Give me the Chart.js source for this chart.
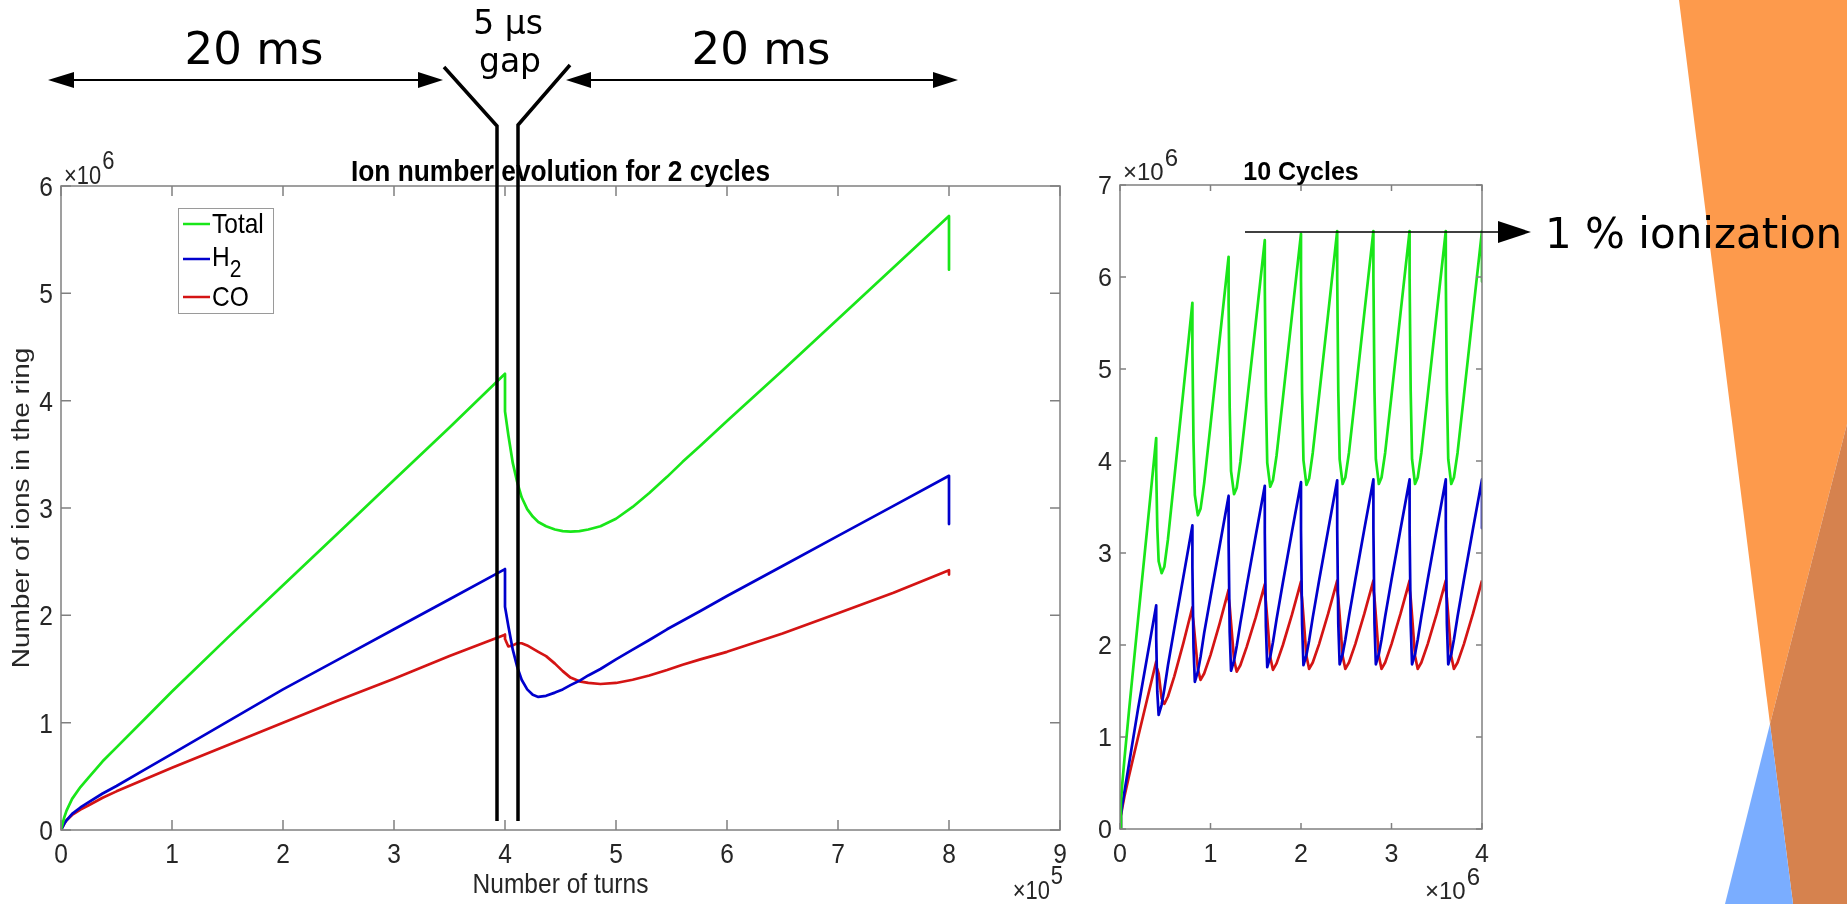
<!DOCTYPE html>
<html><head><meta charset="utf-8">
<script src="https://cdn.jsdelivr.net/npm/chart.js@4.4.1/dist/chart.umd.min.js"></script>
<style>
html,body{margin:0;padding:0;background:#fff;}
#stage{position:relative;width:1847px;height:904px;overflow:hidden;background:#fff;}
#stage svg,#stage canvas{position:absolute;left:0;top:0;}
</style></head><body>
<div id="stage">
<svg id="bg" width="1847" height="904">
  <polygon points="1679,0 1847,0 1847,424 1770,724" fill="#FD9A4C"/>
  <polygon points="1847,424 1770,724 1793,904 1847,904" fill="#D6824E"/>
  <polygon points="1770,724 1725,904 1793,904" fill="#7AADFF"/>
</svg>
<canvas id="c1" width="1847" height="904"></canvas>
<canvas id="c2" width="1847" height="904"></canvas>
<svg id="fg" width="1847" height="904">
  <g font-family="'DejaVu Sans', sans-serif" fill="#000">
    <text x="254" y="64" font-size="45" text-anchor="middle">20 ms</text>
    <text x="761" y="64" font-size="45" text-anchor="middle">20 ms</text>
    <text x="508" y="34" font-size="33" text-anchor="middle">5 µs</text>
    <text x="510" y="72" font-size="33" text-anchor="middle">gap</text>
  </g>
  <g stroke="#000" stroke-width="2">
    <line x1="70" y1="80" x2="422" y2="80"/>
    <line x1="588" y1="80" x2="938" y2="80"/>
  </g>
  <g fill="#000">
    <polygon points="48,80 74,72 74,88"/>
    <polygon points="443,80 418,72 418,88"/>
    <polygon points="566,80 591,72 591,88"/>
    <polygon points="958,80 933,72 933,88"/>
  </g>
  <polyline points="444,67 497,126 497,821" fill="none" stroke="#000" stroke-width="3.5"/>
  <polyline points="570,65 518,125 518,821" fill="none" stroke="#000" stroke-width="3.5"/>
  <line x1="1245" y1="232" x2="1505" y2="232" stroke="#000" stroke-width="1.5"/>
  <polygon points="1498,221 1531,232 1498,243" fill="#000"/>
  <text x="1545" y="248" font-family="'DejaVu Sans', sans-serif" font-size="42" fill="#000">1 % ionization</text>
</svg>
</div>
<script>
// ---------- data: 2 cycles (x in units of 1e5 turns, y in units of 1e6 ions) ----------
const mainTurns = [0,0.03,0.05,0.1,0.175,0.25,0.375,0.5,0.75,1,1.5,2,2.5,3,3.5,4,
  4,4.03,4.07,4.11,4.15,4.2,4.25,4.3,4.37,4.45,4.52,4.59,4.67,4.75,4.86,5,5.15,5.3,5.46,5.6,5.76,6,6.5,7,7.5,8,8];
const mainTotal = [0,0.12,0.18,0.29,0.40,0.49,0.64,0.77,1.03,1.29,1.79,2.28,2.77,3.26,3.75,4.25,
  3.90,3.68,3.42,3.24,3.10,2.99,2.92,2.87,2.83,2.80,2.785,2.78,2.785,2.80,2.83,2.90,3.01,3.14,3.29,3.43,3.58,3.81,4.28,4.76,5.24,5.72,5.22];
const mainH2    = [0,0.06,0.09,0.15,0.21,0.26,0.34,0.41,0.56,0.71,1.01,1.31,1.59,1.87,2.15,2.43,
  2.08,1.90,1.68,1.52,1.40,1.31,1.26,1.24,1.25,1.28,1.31,1.35,1.39,1.44,1.50,1.59,1.68,1.77,1.87,1.95,2.04,2.18,2.46,2.74,3.02,3.30,2.85];
const mainCO    = [0,0.06,0.09,0.14,0.19,0.23,0.30,0.36,0.47,0.58,0.79,1.00,1.21,1.41,1.62,1.82,
  1.78,1.71,1.72,1.74,1.74,1.72,1.69,1.66,1.62,1.55,1.48,1.42,1.385,1.37,1.36,1.37,1.40,1.44,1.49,1.54,1.59,1.66,1.83,2.02,2.21,2.42,2.38];

// ---------- data: 10 cycles (x in units of 1e6 turns, y in units of 1e6 ions) ----------
const tenTurns = [0,0.01,0.025,0.05,0.1,0.2,0.3,
0.4,0.4,0.412,0.427,0.46,0.49,0.53,0.6,0.7,
0.8,0.8,0.812,0.827,0.86,0.89,0.93,1.0,1.1,
1.2,1.2,1.212,1.227,1.26,1.29,1.33,1.4,1.5,
1.6,1.6,1.612,1.627,1.66,1.69,1.73,1.8,1.9,
2.0,2.0,2.012,2.027,2.06,2.09,2.13,2.2,2.3,
2.4,2.4,2.412,2.427,2.46,2.49,2.53,2.6,2.7,
2.8,2.8,2.812,2.827,2.86,2.89,2.93,3.0,3.1,
3.2,3.2,3.212,3.227,3.26,3.29,3.33,3.4,3.5,
3.6,3.6,3.612,3.627,3.66,3.69,3.73,3.8,3.9,
4.0,4.0];
const tenTotal = [0,0.29,0.49,0.77,1.29,2.28,3.26,
4.25,3.90,3.28,2.91,2.78,2.85,3.15,3.81,4.76,
5.72,5.22,4.22,3.63,3.41,3.48,3.76,4.39,5.31,
6.22,5.72,4.58,3.89,3.64,3.71,3.99,4.61,5.50,
6.40,5.90,4.70,3.98,3.72,3.79,4.06,4.68,5.58,
6.47,5.97,4.74,4.01,3.74,3.81,4.09,4.71,5.60,
6.50,6.00,4.76,4.02,3.75,3.82,4.09,4.71,5.61,
6.50,6.00,4.76,4.02,3.75,3.82,4.09,4.71,5.61,
6.50,6.00,4.76,4.02,3.75,3.82,4.09,4.71,5.61,
6.50,6.00,4.76,4.02,3.75,3.82,4.09,4.71,5.61,
6.50,5.95];
const tenH2 = [0,0.15,0.26,0.41,0.71,1.31,1.87,
2.43,2.08,1.49,1.24,1.35,1.52,1.78,2.18,2.74,
3.30,2.85,1.98,1.60,1.71,1.87,2.13,2.52,3.07,
3.62,3.12,2.14,1.72,1.83,1.99,2.24,2.64,3.19,
3.73,3.22,2.20,1.76,1.87,2.03,2.28,2.68,3.23,
3.77,3.25,2.22,1.78,1.89,2.05,2.30,2.70,3.25,
3.79,3.27,2.23,1.79,1.90,2.06,2.31,2.71,3.26,
3.80,3.27,2.23,1.79,1.90,2.06,2.31,2.71,3.26,
3.80,3.27,2.23,1.79,1.90,2.06,2.31,2.71,3.26,
3.80,3.27,2.23,1.79,1.90,2.06,2.31,2.71,3.26,
3.80,3.27];
const tenCO = [0,0.14,0.23,0.36,0.58,1.00,1.41,
1.82,1.76,1.74,1.69,1.42,1.36,1.44,1.66,2.02,
2.41,2.33,2.25,2.09,1.74,1.62,1.69,1.89,2.23,
2.60,2.51,2.42,2.24,1.84,1.71,1.78,1.98,2.30,
2.66,2.57,2.47,2.29,1.87,1.73,1.80,2.00,2.33,
2.69,2.60,2.50,2.31,1.88,1.74,1.81,2.01,2.34,
2.70,2.60,2.51,2.32,1.88,1.74,1.81,2.01,2.34,
2.70,2.60,2.51,2.32,1.88,1.74,1.81,2.01,2.34,
2.70,2.60,2.51,2.32,1.88,1.74,1.81,2.01,2.34,
2.70,2.60,2.51,2.32,1.88,1.74,1.81,2.01,2.34,
2.70,2.70];

const seriesLabels = ['Total','H₂','CO'];
const seriesColors = ['#19E619','#0000CD','#D41414'];
const mainTitle = 'Ion number evolution for 2 cycles';
const tenTitle = '10 Cycles';
const xAxisTitle = 'Number of turns';
const yAxisTitle = 'Number of ions in the ring';

const AXIS_COLOR = '#808080';
const TEXT_COLOR = '#262626';
const FONT = '"Liberation Sans", Arial, Helvetica, sans-serif';

function txt(ctx, s, x, y, font, align, baseline, sx){
  ctx.save();
  ctx.font = font; ctx.textAlign = align; ctx.textBaseline = baseline;
  ctx.translate(x, y); ctx.scale(sx, 1);
  ctx.fillText(s, 0, 0);
  ctx.restore();
}
function powText(ctx, base, exp, x, y, right, fs, raise, sx){
  ctx.save();
  ctx.font = fs + 'px ' + FONT;
  const wb = ctx.measureText(base).width * sx, we = ctx.measureText(exp).width * sx;
  const x0 = right ? x - wb - we - 1 : x;
  txt(ctx, base, x0, y, ctx.font, 'left', 'alphabetic', sx);
  txt(ctx, exp, x0 + wb + 1, y - raise, ctx.font, 'left', 'alphabetic', sx);
  ctx.restore();
}

const decor = {
  id: 'decor',
  afterDraw(chart, args, o){
    const ctx = chart.ctx, a = chart.chartArea;
    const xs = chart.scales.x, ys = chart.scales.y;
    const sx = o.sx, fs = o.fs, tf = fs + 'px ' + FONT;
    ctx.save();
    // box + inward ticks
    ctx.strokeStyle = AXIS_COLOR; ctx.lineWidth = 1.5;
    ctx.strokeRect(a.left, a.top, a.right - a.left, a.bottom - a.top);
    ctx.beginPath();
    xs.ticks.forEach(t => { const p = xs.getPixelForValue(t.value);
      ctx.moveTo(p, a.bottom); ctx.lineTo(p, a.bottom - o.tick);
      ctx.moveTo(p, a.top); ctx.lineTo(p, a.top + o.tick); });
    ys.ticks.forEach(t => { const p = ys.getPixelForValue(t.value);
      ctx.moveTo(a.left, p); ctx.lineTo(a.left + o.tick, p);
      ctx.moveTo(a.right, p); ctx.lineTo(a.right - o.tick, p); });
    ctx.stroke();
    // tick labels from the library's scales
    ctx.fillStyle = TEXT_COLOR;
    xs.ticks.forEach(t => txt(ctx, String(t.label), xs.getPixelForValue(t.value), a.bottom + o.xLabDy, tf, 'center', 'alphabetic', sx));
    ys.ticks.forEach(t => txt(ctx, String(t.label), a.left - 8, ys.getPixelForValue(t.value) + o.yLabDy, tf, 'right', 'alphabetic', sx));
    // title
    ctx.fillStyle = '#000';
    txt(ctx, o.title, (a.left + a.right) / 2, a.top - 5, 'bold ' + o.titleFs + 'px ' + FONT, 'center', 'alphabetic', sx);
    // exponents
    ctx.fillStyle = TEXT_COLOR;
    powText(ctx, '×10', o.yExp, a.left + o.yExpDx, a.top + o.yExpDy, false, o.expFs, o.expRaise, sx);
    powText(ctx, '×10', o.xExp, a.right + o.xExpDx, a.bottom + o.xExpDy, true, o.expFs, o.expRaise, sx);
    // axis titles
    if (o.xTitle) txt(ctx, o.xTitle, (a.left + a.right) / 2, a.bottom + 63, tf, 'center', 'alphabetic', sx);
    if (o.yTitle) {
      ctx.save(); ctx.translate(22, (a.top + a.bottom) / 2); ctx.rotate(-Math.PI / 2); ctx.scale(1, sx);
      ctx.font = tf; ctx.textAlign = 'center'; ctx.textBaseline = 'middle';
      ctx.fillText(o.yTitle, 0, 0); ctx.restore();
    }
    // legend
    if (o.legend) {
      const lx = a.left + 117, ly = a.top + 22, lw = 95, lh = 105;
      ctx.fillStyle = '#fff'; ctx.fillRect(lx, ly, lw, lh);
      ctx.strokeStyle = '#9a9a9a'; ctx.lineWidth = 1; ctx.strokeRect(lx + 0.5, ly + 0.5, lw, lh);
      const offs = [16, 51, 89];
      chart.data.datasets.forEach((ds, i) => {
        const yy = ly + offs[i];
        ctx.strokeStyle = ds.borderColor; ctx.lineWidth = 2.5;
        ctx.beginPath(); ctx.moveTo(lx + 5, yy); ctx.lineTo(lx + 32, yy); ctx.stroke();
        ctx.fillStyle = '#000';
        const lab = ds.label;
        if (lab.indexOf('₂') >= 0) {
          const b = lab.replace('₂', '');
          txt(ctx, b, lx + 34, yy + 7, tf, 'left', 'alphabetic', sx);
          ctx.font = tf;
          const w = ctx.measureText(b).width * sx;
          txt(ctx, '2', lx + 34 + w, yy + 18, '24px ' + FONT, 'left', 'alphabetic', sx);
        } else {
          txt(ctx, lab, lx + 34, yy + 9, tf, 'left', 'alphabetic', sx);
        }
      });
    }
    ctx.restore();
  }
};

function makeChart(id, xs, ys, o){
  return new Chart(document.getElementById(id), {
    type: 'line',
    data: { datasets: ys.map((vals, k) => ({
      label: seriesLabels[k],
      data: xs.map((x, i) => ({x: x, y: vals[i]})),
      borderColor: seriesColors[k], borderWidth: 2.7,
      pointRadius: 0, tension: 0, fill: false,
      borderJoinStyle: 'round'
    })) },
    options: {
      responsive: false, animation: false, events: [],
      layout: { padding: { left: o.padL, right: o.padR, top: o.padT, bottom: 0 } },
      plugins: { legend: { display: false }, tooltip: { enabled: false }, decor: o.decor },
      scales: {
        x: { type: 'linear', min: 0, max: o.xMax,
             grid: { display: false, drawTicks: false }, border: { display: false },
             ticks: { stepSize: 1, display: false, autoSkip: false },
             afterFit: s => { s.height = o.xH; } },
        y: { type: 'linear', min: 0, max: o.yMax,
             grid: { display: false, drawTicks: false }, border: { display: false },
             ticks: { stepSize: 1, display: false, autoSkip: false },
             afterFit: s => { s.width = o.yW; } }
      }
    },
    plugins: [decor]
  });
}

makeChart('c1', mainTurns, [mainTotal, mainH2, mainCO], {
  padL: 0, padR: 787, padT: 186, xH: 74, yW: 61, xMax: 9, yMax: 6,
  decor: { title: mainTitle, titleFs: 30, tick: 10, sx: 0.876, fs: 28, xLabDy: 33, yLabDy: 10,
           yExp: '6', xExp: '5', expFs: 25, expRaise: 15, yExpDx: 3, yExpDy: -2, xExpDx: 3, xExpDy: 69,
           xTitle: xAxisTitle, yTitle: yAxisTitle, legend: true }
});
makeChart('c2', tenTurns, [tenTotal, tenH2, tenCO], {
  padL: 1080, padR: 365, padT: 185, xH: 75, yW: 40, xMax: 4, yMax: 7,
  decor: { title: tenTitle, titleFs: 25, tick: 6, sx: 1, fs: 25, xLabDy: 33, yLabDy: 9,
           yExp: '6', xExp: '6', expFs: 24, expRaise: 14, yExpDx: 3, yExpDy: -5, xExpDx: -2, xExpDy: 70,
           xTitle: null, yTitle: null, legend: false }
});
</script>
</body></html>
